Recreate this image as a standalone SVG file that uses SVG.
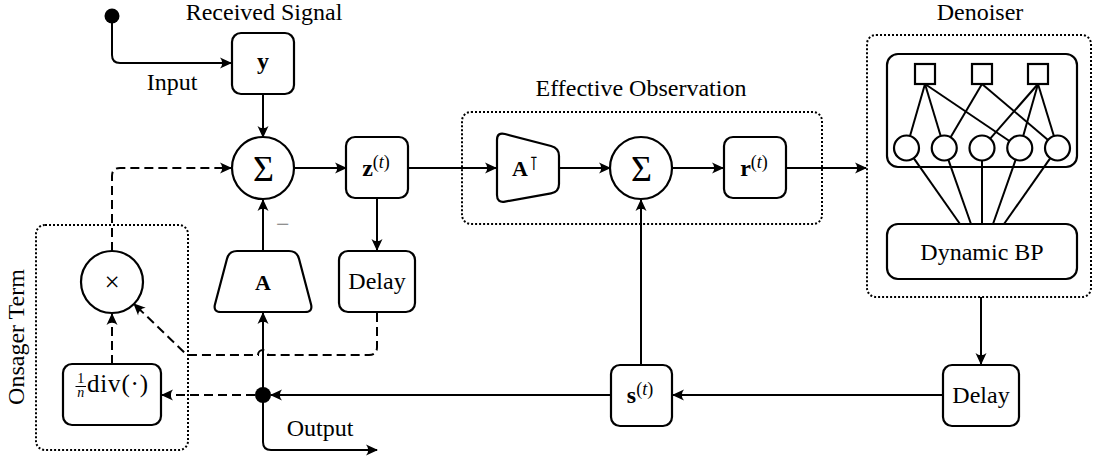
<svg xmlns="http://www.w3.org/2000/svg" width="1094" height="462" viewBox="0 0 1094 462">
<style>
text{font-family:"Liberation Serif","Times New Roman","DejaVu Serif",serif;font-size:24px;fill:#000}
.bx{fill:#fff;stroke:#000;stroke-width:2.2}
.grp{fill:none;stroke:#000;stroke-width:2;stroke-dasharray:2 2}
.ln{fill:none;stroke:#000;stroke-width:2}
.ds{fill:none;stroke:#000;stroke-width:2;stroke-dasharray:9 5}
.ar{marker-end:url(#ah)}
.m{text-anchor:middle}
.b{font-weight:bold}
.sup{font-size:18px}
.sig{font-size:36px}
</style>
<defs>
<marker id="ah" viewBox="-13 -7 15 14" refX="0" refY="0" markerWidth="15" markerHeight="14" markerUnits="userSpaceOnUse" orient="auto">
<path d="M1,0 L-11,-5.5 Q-6.5,0 -11,5.5 Z" fill="#000"/>
</marker>
</defs>

<!-- group frames -->
<g id="onsager-term">
<rect class="grp" x="36" y="225" width="152" height="225" rx="9"/>
<text class="m" transform="translate(23.5,337) rotate(-90)">Onsager Term</text>
</g>
<g id="effective-observation">
<rect class="grp" x="462" y="112" width="360" height="112" rx="9"/>
<text class="m" x="641" y="96">Effective Observation</text>
</g>

<!-- connectors -->
<g id="connectors">
<path class="ln ar" d="M112,16 V55 Q112,63 120,63 H231"/>
<path class="ln ar" d="M263,95 V137"/>
<path class="ln ar" d="M294,168 H346"/>
<path class="ln ar" d="M377,199 V250"/>
<path class="ln ar" d="M263,251 V200"/>
<path class="ln ar" d="M408,168 H496"/>
<path class="ln ar" d="M559,168 H610"/>
<path class="ln ar" d="M672,168 H723"/>
<path class="ln ar" d="M786,168 H866"/>
<path class="ln ar" d="M981,297 V364"/>
<path class="ln ar" d="M943,395 H673"/>
<path class="ln ar" d="M641,365 V200"/>
<path class="ln ar" d="M611,395 H271"/>
<path class="ln ar" d="M263,395 V313"/>
<path class="ln ar" d="M263,395 V442 Q263,450 271,450 H377"/>
<path class="ds ar" d="M255,395 H162"/>
<path class="ds ar" d="M112,364 V314"/>
<path class="ds ar" d="M112,251 V176 Q112,168 120,168 H231"/>
<path class="ds ar" d="M377,313 V347 Q377,355 369,355 H268 A5,5 0 0 0 258,355 H187 L134,304"/>
<text x="276" y="232" style="fill:#777">−</text>
<text class="m" x="172" y="90">Input</text>
<text class="m" x="320" y="436">Output</text>
</g>

<!-- nodes -->
<g id="input-dot"><circle cx="112" cy="16" r="7.5" fill="#000"/></g>
<g id="output-dot"><circle cx="263" cy="395" r="8" fill="#000"/></g>

<g id="received-signal">
<rect class="bx" x="232" y="33" width="62" height="61" rx="9"/>
<text class="m b" x="263" y="69">y</text>
<text class="m" x="264" y="20">Received Signal</text>
</g>

<g id="sum1">
<circle class="bx" cx="263" cy="168" r="31"/>
<text class="m sig" x="263.5" y="181">Σ</text>
</g>

<g id="z">
<rect class="bx" x="346" y="137" width="62" height="61" rx="9"/>
<text class="m" x="376" y="176"><tspan class="b">z</tspan><tspan class="sup" dy="-8">(<tspan font-style="italic">t</tspan>)</tspan></text>
</g>

<g id="delay1">
<rect class="bx" x="339" y="251" width="76" height="61" rx="9"/>
<text class="m" x="377" y="289">Delay</text>
</g>

<g id="A">
<path class="bx" d="M237,251 H289 Q297,251 299,258.7 L311,304.3 Q313,312 305,312 H221 Q213,312 215,304.3 L227,258.7 Q229,251 237,251 Z"/>
<text class="m b" x="263" y="290" style="font-size:22px">A</text>
</g>

<g id="multiply">
<circle class="bx" cx="112" cy="282" r="31"/>
<text class="m" x="112" y="291" style="font-size:27px">×</text>
</g>

<g id="divergence">
<rect class="bx" x="63" y="364" width="98" height="61" rx="9"/>
<text class="m" style="font-size:14px"><tspan x="80.7" y="383">1</tspan><tspan x="80.7" y="397" font-style="italic">n</tspan></text>
<line x1="75.5" y1="386.5" x2="86" y2="386.5" stroke="#000" stroke-width="1"/>
<text x="87" y="392" style="font-size:25px" textLength="61" lengthAdjust="spacing">div(·)</text>
</g>

<g id="AT">
<path class="bx" d="M505,134 L551,146 Q559,148 559,156 V184 Q559,192 551,193.4 L505,201.6 Q497,203 497,195 V140 Q497,132 505,134 Z"/>
<text x="512" y="176" class="b" style="font-size:22px">A</text>
<text x="529" y="170" style="font-family:'DejaVu Sans',sans-serif;font-size:19px">⊺</text>
</g>

<g id="sum2">
<circle class="bx" cx="641" cy="168" r="31"/>
<text class="m sig" x="641.5" y="181">Σ</text>
</g>

<g id="r">
<rect class="bx" x="724" y="137" width="62" height="61" rx="9"/>
<text class="m" x="754" y="176"><tspan class="b">r</tspan><tspan class="sup" dy="-8">(<tspan font-style="italic">t</tspan>)</tspan></text>
</g>

<g id="denoiser">
<rect class="grp" x="867" y="35" width="224" height="262" rx="9"/>
<text class="m" x="980" y="20">Denoiser</text>
<rect class="bx" x="887" y="54" width="190" height="113" rx="11"/>
<g class="ln">
<line x1="925" y1="84" x2="910" y2="136"/>
<line x1="925" y1="84" x2="940.7" y2="136"/>
<line x1="925" y1="84" x2="1009.4" y2="141"/>
<line x1="982" y1="84" x2="950.6" y2="137.2"/>
<line x1="982" y1="84" x2="1048" y2="139.9"/>
<line x1="1038" y1="84" x2="990.2" y2="138.6"/>
<line x1="1038" y1="84" x2="1023.2" y2="136"/>
<line x1="1038" y1="84" x2="1053.9" y2="136"/>
<line x1="913.7" y1="158.2" x2="960" y2="224"/>
<line x1="948.4" y1="159.8" x2="971" y2="224"/>
<line x1="982" y1="160.5" x2="982" y2="224"/>
<line x1="1015.6" y1="159.8" x2="993" y2="224"/>
<line x1="1050.3" y1="158.2" x2="1004" y2="224"/>
</g>
<rect class="bx" x="915" y="64" width="20" height="20"/>
<rect class="bx" x="972" y="64" width="20" height="20"/>
<rect class="bx" x="1028" y="64" width="20" height="20"/>
<circle class="bx" cx="906.5" cy="148" r="12.5"/>
<circle class="bx" cx="944.25" cy="148" r="12.5"/>
<circle class="bx" cx="982" cy="148" r="12.5"/>
<circle class="bx" cx="1019.75" cy="148" r="12.5"/>
<circle class="bx" cx="1057.5" cy="148" r="12.5"/>
<rect class="bx" x="887" y="224" width="190" height="55" rx="11"/>
<text class="m" x="982" y="260">Dynamic BP</text>
</g>

<g id="delay2">
<rect class="bx" x="943" y="365" width="76" height="61" rx="9"/>
<text class="m" x="981" y="403">Delay</text>
</g>

<g id="s">
<rect class="bx" x="611" y="365" width="61" height="61" rx="9"/>
<text class="m" x="640" y="403"><tspan class="b">s</tspan><tspan class="sup" dy="-8">(<tspan font-style="italic">t</tspan>)</tspan></text>
</g>
</svg>
